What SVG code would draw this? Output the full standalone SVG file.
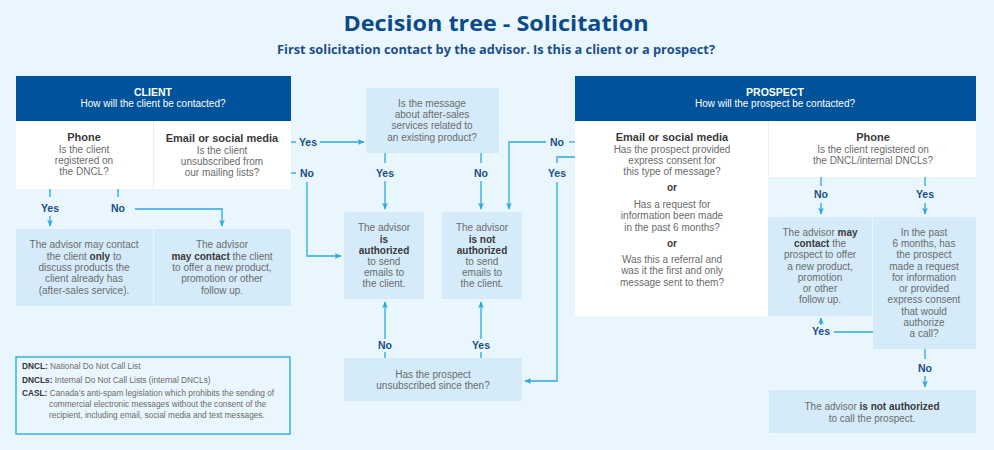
<svg xmlns="http://www.w3.org/2000/svg" width="994" height="450" viewBox="0 0 994 450">
<defs>
<marker id="arr" viewBox="0 0 10 10" refX="9" refY="5" markerWidth="7" markerHeight="7" orient="auto" markerUnits="userSpaceOnUse">
<path d="M0,1 L10,5 L0,9 L2.5,5 z" fill="#2BA8E0"/>
</marker>
<style>
.t{font-family:"Liberation Sans",Arial,sans-serif;font-size:10px;fill:#6b6b6b;text-anchor:middle}
.b{font-weight:bold;fill:#3a3a3a}
.h{font-family:"Liberation Sans",Arial,sans-serif;font-size:11px;fill:#3a3a3a;font-weight:bold;text-anchor:middle}
.lab{font-family:"Liberation Sans",Arial,sans-serif;font-size:10.5px;font-weight:bold;fill:#1B4F8A;text-anchor:middle}
.hd{fill:#00529B}
.hw{font-family:"Liberation Sans",Arial,sans-serif;fill:#ffffff;text-anchor:middle}
.box{fill:#D5EBFA}
.wh{fill:#ffffff}
.ln{fill:none;stroke:#2BA8E0;stroke-width:1.3}
.lg{font-family:"Liberation Sans",Arial,sans-serif;font-size:8.3px;fill:#6b6b6b}
</style>
</defs>
<rect width="994" height="450" fill="#EAF6FD"/>
<g id="title">
<text x="496" y="31" text-anchor="middle" font-family="'Open Sans','Liberation Sans',sans-serif" font-weight="bold" font-size="22" fill="#0B4A8B" textLength="305" lengthAdjust="spacingAndGlyphs">Decision tree - Solicitation</text>
<text x="496" y="54" text-anchor="middle" font-family="'Open Sans','Liberation Sans',sans-serif" font-weight="bold" font-size="12" fill="#1B4F8A" textLength="438" lengthAdjust="spacingAndGlyphs">First solicitation contact by the advisor. Is this a client or a prospect?</text>
</g>
<g id="client">
<rect class="hd" x="16" y="76" width="275" height="45"/>
<text class="hw" x="153" y="96" font-size="10.5" font-weight="bold">CLIENT</text>
<text class="hw" x="153" y="107" font-size="10">How will the client be contacted?</text>
<rect class="wh" x="16" y="121" width="275" height="68"/>
<line x1="153.5" y1="121" x2="153.5" y2="189" stroke="#EEEEEE" stroke-width="1"/>
</g>
<g id="client-phone">
<text class="h" x="84" y="141">Phone</text>
<text class="t" x="84" y="153">Is the client</text>
<text class="t" x="84" y="164">registered on</text>
<text class="t" x="84" y="175">the DNCL?</text>
</g>
<g id="client-email">
<text class="h" x="222" y="142">Email or social media</text>
<text class="t" x="222" y="154">Is the client</text>
<text class="t" x="222" y="165">unsubscribed from</text>
<text class="t" x="222" y="176">our mailing lists?</text>
</g>
<g id="client-only">
<rect class="box" x="16" y="229" width="137" height="77"/>
<text class="t" x="84" y="248">The advisor may contact</text>
<text class="t" x="84" y="260">the client <tspan class="b">only</tspan> to</text>
<text class="t" x="84" y="271">discuss products the</text>
<text class="t" x="84" y="282">client already has</text>
<text class="t" x="84" y="294">(after-sales service).</text>
</g>
<g id="client-may">
<rect class="box" x="154" y="229" width="137" height="77"/>
<text class="t" x="222" y="248">The advisor</text>
<text class="t" x="222" y="260"><tspan class="b">may contact</tspan> the client</text>
<text class="t" x="222" y="271">to offer a new product,</text>
<text class="t" x="222" y="282">promotion or other</text>
<text class="t" x="222" y="294">follow up.</text>
</g>
<g id="q-aftersales">
<rect class="box" x="366" y="88" width="133" height="65"/>
<text class="t" x="432" y="107">Is the message</text>
<text class="t" x="432" y="118">about after-sales</text>
<text class="t" x="432" y="129">services related to</text>
<text class="t" x="432" y="141">an existing product?</text>
</g>
<g id="authorized">
<rect class="box" x="344" y="212" width="80" height="87"/>
<text class="t" x="384" y="231">The advisor</text>
<text class="t b" x="384" y="243">is</text>
<text class="t b" x="384" y="254">authorized</text>
<text class="t" x="384" y="265">to send</text>
<text class="t" x="384" y="276">emails to</text>
<text class="t" x="384" y="287">the client.</text>
</g>
<g id="not-authorized">
<rect class="box" x="442" y="212" width="80" height="87"/>
<text class="t" x="482" y="231">The advisor</text>
<text class="t b" x="482" y="243">is not</text>
<text class="t b" x="482" y="254">authorized</text>
<text class="t" x="482" y="265">to send</text>
<text class="t" x="482" y="276">emails to</text>
<text class="t" x="482" y="287">the client.</text>
</g>
<g id="q-unsubscribed">
<rect class="box" x="344" y="358" width="178" height="43"/>
<text class="t" x="433" y="378">Has the prospect</text>
<text class="t" x="433" y="389">unsubscribed since then?</text>
</g>
<g id="prospect">
<rect class="hd" x="575" y="76" width="401" height="45"/>
<text class="hw" x="775" y="96" font-size="10.5" font-weight="bold">PROSPECT</text>
<text class="hw" x="775" y="107" font-size="10">How will the prospect be contacted?</text>
<rect class="wh" x="575" y="121" width="193" height="195"/>
<rect class="wh" x="768" y="121" width="208" height="56"/>
<line x1="768.5" y1="121" x2="768.5" y2="177" stroke="#EEEEEE" stroke-width="1"/>
</g>
<g id="prospect-email">
<text class="h" x="672" y="141">Email or social media</text>
<text class="t" x="672" y="153">Has the prospect provided</text>
<text class="t" x="672" y="164">express consent for</text>
<text class="t" x="672" y="175">this type of message?</text>
<text class="t b" x="672" y="191">or</text>
<text class="t" x="672" y="208">Has a request for</text>
<text class="t" x="672" y="219">information been made</text>
<text class="t" x="672" y="231">in the past 6 months?</text>
<text class="t b" x="672" y="247">or</text>
<text class="t" x="672" y="263">Was this a referral and</text>
<text class="t" x="672" y="274">was it the first and only</text>
<text class="t" x="672" y="286">message sent to them?</text>
</g>
<g id="prospect-phone">
<text class="h" x="873" y="141">Phone</text>
<text class="t" x="873" y="153">Is the client registered on</text>
<text class="t" x="873" y="164">the DNCL/internal DNCLs?</text>
</g>
<g id="prospect-may">
<rect class="box" x="768" y="217" width="104" height="99"/>
<text class="t" x="820" y="236">The advisor <tspan class="b">may</tspan></text>
<text class="t" x="820" y="247"><tspan class="b">contact</tspan> the</text>
<text class="t" x="820" y="258">prospect to offer</text>
<text class="t" x="820" y="270">a new product,</text>
<text class="t" x="820" y="281">promotion</text>
<text class="t" x="820" y="292">or other</text>
<text class="t" x="820" y="303">follow up.</text>
</g>
<g id="prospect-past6">
<rect class="box" x="873" y="217" width="103" height="132"/>
<text class="t" x="924" y="236">In the past</text>
<text class="t" x="924" y="247">6 months, has</text>
<text class="t" x="924" y="258">the prospect</text>
<text class="t" x="924" y="270">made a request</text>
<text class="t" x="924" y="281">for information</text>
<text class="t" x="924" y="292">or provided</text>
<text class="t" x="924" y="303">express consent</text>
<text class="t" x="924" y="315">that would</text>
<text class="t" x="924" y="326">authorize</text>
<text class="t" x="924" y="337">a call?</text>
</g>
<g id="prospect-not-call">
<rect class="box" x="769" y="390" width="207" height="43"/>
<text class="t" x="872" y="410">The advisor <tspan class="b">is not authorized</tspan></text>
<text class="t" x="872" y="422">to call the prospect.</text>
</g>
<g id="legend">
<rect x="16" y="357" width="274" height="77" fill="none" stroke="#3BB0E0" stroke-width="1.5"/>
<text class="lg" x="22" y="369"><tspan font-weight="bold" fill="#333">DNCL:</tspan> National Do Not Call List</text>
<text class="lg" x="22" y="383"><tspan font-weight="bold" fill="#333">DNCLs:</tspan> Internal Do Not Call Lists (internal DNCLs)</text>
<text class="lg" x="22" y="396"><tspan font-weight="bold" fill="#333">CASL:</tspan> Canada’s anti-spam legislation which prohibits the sending of</text>
<text class="lg" x="49" y="407">commercial electronic messages without the consent of the</text>
<text class="lg" x="49" y="418">recipient, including email, social media and text messages.</text>
</g>
<g id="connectors">
<path class="ln" d="M50,189 V197"/>
<text class="lab" x="50" y="212">Yes</text>
<path class="ln" d="M50,216 V226" marker-end="url(#arr)"/>
<path class="ln" d="M118,189 V197"/>
<text class="lab" x="118" y="212">No</text>
<path class="ln" d="M135,209 H222 V226" marker-end="url(#arr)"/>
<path class="ln" d="M291,142 H296"/>
<text class="lab" x="308" y="146">Yes</text>
<path class="ln" d="M320,142 H364" marker-end="url(#arr)"/>
<path class="ln" d="M291,173 H296"/>
<text class="lab" x="307" y="177">No</text>
<path class="ln" d="M307,182 V256 H341" marker-end="url(#arr)"/>
<path class="ln" d="M385,153 V163"/>
<text class="lab" x="385" y="177">Yes</text>
<path class="ln" d="M385,181 V209" marker-end="url(#arr)"/>
<path class="ln" d="M481,153 V163"/>
<text class="lab" x="481" y="177">No</text>
<path class="ln" d="M481,181 V209" marker-end="url(#arr)"/>
<path class="ln" d="M575,142 H569"/>
<text class="lab" x="557" y="146">No</text>
<path class="ln" d="M546,142 H509 V209" marker-end="url(#arr)"/>
<path class="ln" d="M575,157 H557 V163"/>
<text class="lab" x="557" y="177">Yes</text>
<path class="ln" d="M557,182 V381 H525" marker-end="url(#arr)"/>
<path class="ln" d="M385,358 V352"/>
<text class="lab" x="385" y="349">No</text>
<path class="ln" d="M385,339 V302" marker-end="url(#arr)"/>
<path class="ln" d="M481,358 V352"/>
<text class="lab" x="481" y="349">Yes</text>
<path class="ln" d="M481,339 V302" marker-end="url(#arr)"/>
<path class="ln" d="M821,177 V186"/>
<text class="lab" x="821" y="198">No</text>
<path class="ln" d="M821,203 V214" marker-end="url(#arr)"/>
<path class="ln" d="M925,177 V186"/>
<text class="lab" x="925" y="198">Yes</text>
<path class="ln" d="M925,203 V214" marker-end="url(#arr)"/>
<path class="ln" d="M873,332 H834"/>
<text class="lab" x="821" y="335">Yes</text>
<path class="ln" d="M821,325 V318" marker-end="url(#arr)"/>
<path class="ln" d="M925,349 V359"/>
<text class="lab" x="925" y="372">No</text>
<path class="ln" d="M925,376 V387" marker-end="url(#arr)"/>
</g>
</svg>
